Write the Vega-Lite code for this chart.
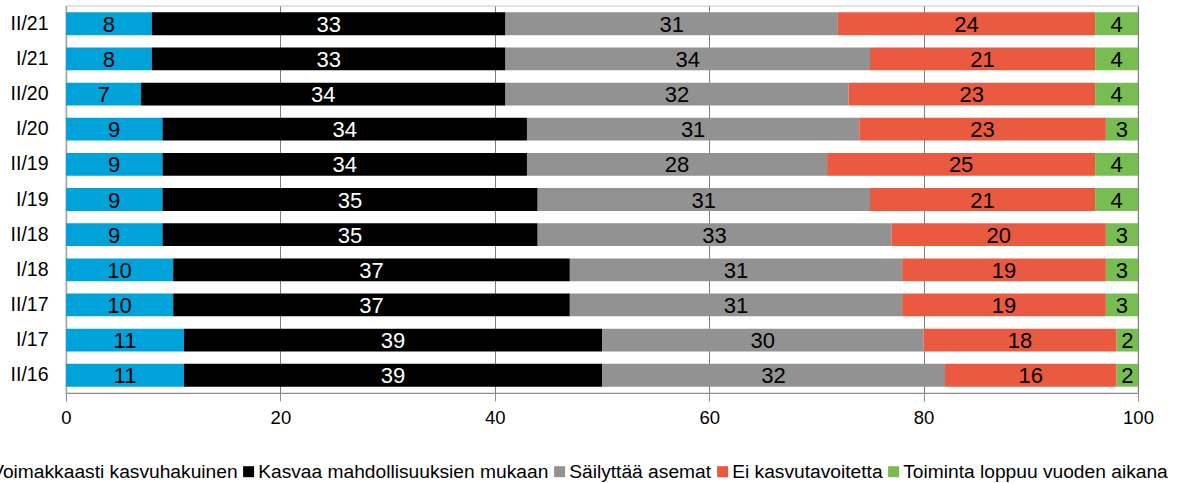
{
  "$schema": "https://vega.github.io/schema/vega-lite/v6.json",
  "autosize": {"type": "none"},
  "padding": {"left": 66, "top": 6, "right": 40, "bottom": 90},
  "width": 1072,
  "height": 387,
  "background": "white",
  "config": {
    "font": "Liberation Sans",
    "view": {"stroke": "#d9d9d9", "strokeWidth": 1.5}
  },
  "data": {
    "values": [
      {"p": "II/21", "c": "Voimakkaasti kasvuhakuinen", "k": 1, "v": 8},
      {"p": "II/21", "c": "Kasvaa mahdollisuuksien mukaan", "k": 2, "v": 33},
      {"p": "II/21", "c": "Säilyttää asemat", "k": 3, "v": 31},
      {"p": "II/21", "c": "Ei kasvutavoitetta", "k": 4, "v": 24},
      {"p": "II/21", "c": "Toiminta loppuu vuoden aikana", "k": 5, "v": 4},
      {"p": "I/21", "c": "Voimakkaasti kasvuhakuinen", "k": 1, "v": 8},
      {"p": "I/21", "c": "Kasvaa mahdollisuuksien mukaan", "k": 2, "v": 33},
      {"p": "I/21", "c": "Säilyttää asemat", "k": 3, "v": 34},
      {"p": "I/21", "c": "Ei kasvutavoitetta", "k": 4, "v": 21},
      {"p": "I/21", "c": "Toiminta loppuu vuoden aikana", "k": 5, "v": 4},
      {"p": "II/20", "c": "Voimakkaasti kasvuhakuinen", "k": 1, "v": 7},
      {"p": "II/20", "c": "Kasvaa mahdollisuuksien mukaan", "k": 2, "v": 34},
      {"p": "II/20", "c": "Säilyttää asemat", "k": 3, "v": 32},
      {"p": "II/20", "c": "Ei kasvutavoitetta", "k": 4, "v": 23},
      {"p": "II/20", "c": "Toiminta loppuu vuoden aikana", "k": 5, "v": 4},
      {"p": "I/20", "c": "Voimakkaasti kasvuhakuinen", "k": 1, "v": 9},
      {"p": "I/20", "c": "Kasvaa mahdollisuuksien mukaan", "k": 2, "v": 34},
      {"p": "I/20", "c": "Säilyttää asemat", "k": 3, "v": 31},
      {"p": "I/20", "c": "Ei kasvutavoitetta", "k": 4, "v": 23},
      {"p": "I/20", "c": "Toiminta loppuu vuoden aikana", "k": 5, "v": 3},
      {"p": "II/19", "c": "Voimakkaasti kasvuhakuinen", "k": 1, "v": 9},
      {"p": "II/19", "c": "Kasvaa mahdollisuuksien mukaan", "k": 2, "v": 34},
      {"p": "II/19", "c": "Säilyttää asemat", "k": 3, "v": 28},
      {"p": "II/19", "c": "Ei kasvutavoitetta", "k": 4, "v": 25},
      {"p": "II/19", "c": "Toiminta loppuu vuoden aikana", "k": 5, "v": 4},
      {"p": "I/19", "c": "Voimakkaasti kasvuhakuinen", "k": 1, "v": 9},
      {"p": "I/19", "c": "Kasvaa mahdollisuuksien mukaan", "k": 2, "v": 35},
      {"p": "I/19", "c": "Säilyttää asemat", "k": 3, "v": 31},
      {"p": "I/19", "c": "Ei kasvutavoitetta", "k": 4, "v": 21},
      {"p": "I/19", "c": "Toiminta loppuu vuoden aikana", "k": 5, "v": 4},
      {"p": "II/18", "c": "Voimakkaasti kasvuhakuinen", "k": 1, "v": 9},
      {"p": "II/18", "c": "Kasvaa mahdollisuuksien mukaan", "k": 2, "v": 35},
      {"p": "II/18", "c": "Säilyttää asemat", "k": 3, "v": 33},
      {"p": "II/18", "c": "Ei kasvutavoitetta", "k": 4, "v": 20},
      {"p": "II/18", "c": "Toiminta loppuu vuoden aikana", "k": 5, "v": 3},
      {"p": "I/18", "c": "Voimakkaasti kasvuhakuinen", "k": 1, "v": 10},
      {"p": "I/18", "c": "Kasvaa mahdollisuuksien mukaan", "k": 2, "v": 37},
      {"p": "I/18", "c": "Säilyttää asemat", "k": 3, "v": 31},
      {"p": "I/18", "c": "Ei kasvutavoitetta", "k": 4, "v": 19},
      {"p": "I/18", "c": "Toiminta loppuu vuoden aikana", "k": 5, "v": 3},
      {"p": "II/17", "c": "Voimakkaasti kasvuhakuinen", "k": 1, "v": 10},
      {"p": "II/17", "c": "Kasvaa mahdollisuuksien mukaan", "k": 2, "v": 37},
      {"p": "II/17", "c": "Säilyttää asemat", "k": 3, "v": 31},
      {"p": "II/17", "c": "Ei kasvutavoitetta", "k": 4, "v": 19},
      {"p": "II/17", "c": "Toiminta loppuu vuoden aikana", "k": 5, "v": 3},
      {"p": "I/17", "c": "Voimakkaasti kasvuhakuinen", "k": 1, "v": 11},
      {"p": "I/17", "c": "Kasvaa mahdollisuuksien mukaan", "k": 2, "v": 39},
      {"p": "I/17", "c": "Säilyttää asemat", "k": 3, "v": 30},
      {"p": "I/17", "c": "Ei kasvutavoitetta", "k": 4, "v": 18},
      {"p": "I/17", "c": "Toiminta loppuu vuoden aikana", "k": 5, "v": 2},
      {"p": "II/16", "c": "Voimakkaasti kasvuhakuinen", "k": 1, "v": 11},
      {"p": "II/16", "c": "Kasvaa mahdollisuuksien mukaan", "k": 2, "v": 39},
      {"p": "II/16", "c": "Säilyttää asemat", "k": 3, "v": 32},
      {"p": "II/16", "c": "Ei kasvutavoitetta", "k": 4, "v": 16},
      {"p": "II/16", "c": "Toiminta loppuu vuoden aikana", "k": 5, "v": 2}
    ]
  },
  "transform": [
    {"stack": "v", "groupby": ["p"], "sort": [{"field": "k", "order": "ascending"}], "as": ["x0", "x1"]},
    {"calculate": "(datum.x0 + datum.x1) / 2", "as": "xm"}
  ],
  "encoding": {
    "y": {
      "field": "p",
      "type": "nominal",
      "sort": null,
      "scale": {"paddingInner": 0.35, "paddingOuter": 0.18},
      "axis": {
        "title": null,
        "ticks": false,
        "labelFontSize": 19.5,
        "labelColor": "#000000",
        "labelPadding": 18,
        "domainColor": "#a6a6a6",
        "domainWidth": 1.5
      }
    }
  },
  "layer": [
    {
      "mark": {"type": "bar"},
      "encoding": {
        "x": {
          "field": "x0",
          "type": "quantitative",
          "scale": {"domain": [0, 100], "nice": false},
          "axis": {
            "title": null,
            "values": [0, 20, 40, 60, 80, 100],
            "labelFontSize": 18.5,
            "labelColor": "#000000",
            "labelPadding": 7,
            "tickSize": 8,
            "tickColor": "#8c8c8c",
            "domainColor": "#8c8c8c",
            "gridColor": "#7f7f7f",
            "gridWidth": 1,
            "labelFlush": false
          }
        },
        "x2": {"field": "x1"},
        "color": {
          "field": "c",
          "type": "nominal",
          "scale": {
            "domain": ["Voimakkaasti kasvuhakuinen", "Kasvaa mahdollisuuksien mukaan", "Säilyttää asemat", "Ei kasvutavoitetta", "Toiminta loppuu vuoden aikana"],
            "range": ["#00a2da", "#000000", "#929292", "#ea5a40", "#77bd52"]
          },
          "legend": {
            "title": null,
            "orient": "none",
            "direction": "horizontal",
            "columns": 5,
            "legendX": -94,
            "legendY": 456,
            "symbolType": "square",
            "symbolSize": 121,
            "symbolStrokeWidth": 0,
            "labelFontSize": 19.2,
            "labelColor": "#000000",
            "labelOffset": 0,
            "columnPadding": 1,
            "labelLimit": 400,
            "padding": 0
          }
        }
      }
    },
    {
      "mark": {"type": "text", "fontSize": 22, "baseline": "middle", "align": "center", "dy": 1},
      "encoding": {
        "x": {"field": "xm", "type": "quantitative"},
        "text": {"field": "v", "type": "quantitative"},
        "color": {
          "condition": {"test": "datum.k === 2", "value": "#ffffff"},
          "value": "#000000"
        }
      }
    }
  ]
}
